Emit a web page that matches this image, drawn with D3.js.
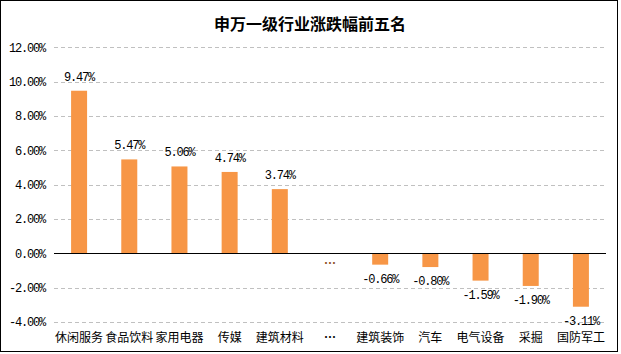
<!DOCTYPE html>
<html lang="zh">
<head>
<meta charset="UTF-8">
<title>申万一级行业涨跌幅前五名</title>
<style>
  body { margin: 0; background: #fff; }
  svg { display: block; }
</style>
</head>
<body>
<svg id="chart" width="621" height="354"></svg>
<script src="https://cdn.jsdelivr.net/npm/d3@7"></script>
<script>
// data
const categories = ["休闲服务", "食品饮料", "家用电器", "传媒", "建筑材料", "…", "建筑装饰", "汽车", "电气设备", "采掘", "国防军工"];
const values = [9.47, 5.47, 5.06, 4.74, 3.74, null, -0.66, -0.80, -1.59, -1.90, -3.11];
const yTicks = [-4, -2, 0, 2, 4, 6, 8, 10, 12];
const title = "申万一级行业涨跌幅前五名";

const svg = d3.select("#chart");
const plotL = 54, plotR = 606, plotT = 47.3, plotB = 322;
const numFont = "'Liberation Mono', 'DejaVu Sans Mono', monospace";
const cjkFont = "'Noto Sans CJK SC', 'Noto Sans', sans-serif";

// outer frame
svg.append("rect")
  .attr("x", 0.5).attr("y", 0.5)
  .attr("width", 617).attr("height", 351)
  .attr("fill", "#fff").attr("stroke", "#000");

svg.append("text")
  .attr("x", 310).attr("y", 30)
  .attr("text-anchor", "middle")
  .attr("font-family", cjkFont)
  .attr("font-weight", "bold")
  .attr("font-size", 16)
  .text(title);

const x = d3.scaleBand().domain(categories).range([plotL, plotR]);
const y = d3.scaleLinear().domain([-4, 12]).range([plotB, plotT]);

// grid lines
svg.append("g")
  .selectAll("line")
  .data(yTicks.filter(d => d !== 0))
  .join("line")
  .attr("x1", plotL).attr("x2", plotR)
  .attr("y1", d => Math.round(y(d)) + 0.5)
  .attr("y2", d => Math.round(y(d)) + 0.5)
  .attr("stroke", "#c0c0c0")
  .attr("stroke-dasharray", "4,3");

// y axis labels
const yAxis = svg.append("g")
  .attr("transform", `translate(${plotL},0)`)
  .call(d3.axisLeft(y).tickValues(yTicks).tickSize(0).tickPadding(9)
    .tickFormat(d => d3.format(".2f")(d).replace("−", "-") + "%"));
yAxis.select(".domain").remove();
yAxis.selectAll("text")
  .attr("font-family", numFont)
  .attr("font-size", 12)
  .attr("letter-spacing", "-1.2px")
  .attr("fill", "#000");

// bars
const bw = 16;
svg.append("g")
  .selectAll("rect")
  .data(values.map((v, i) => ({ c: categories[i], v })).filter(d => d.v !== null))
  .join("rect")
  .attr("x", d => x(d.c) + x.bandwidth() / 2 - bw / 2)
  .attr("y", d => y(Math.max(0, d.v)))
  .attr("width", bw)
  .attr("height", d => Math.abs(y(d.v) - y(0)))
  .attr("fill", "#f79646");

// zero line
svg.append("line")
  .attr("x1", plotL).attr("x2", plotR)
  .attr("y1", Math.round(y(0)) + 0.5).attr("y2", Math.round(y(0)) + 0.5)
  .attr("stroke", "#000");

// value labels
svg.append("g")
  .selectAll("text")
  .data(values.map((v, i) => ({ c: categories[i], v })))
  .join("text")
  .attr("x", d => x(d.c) + x.bandwidth() / 2)
  .attr("y", d => d.v === null ? y(0) + 15 : (d.v >= 0 ? y(d.v) - 10 : y(d.v) + 18))
  .attr("text-anchor", "middle")
  .attr("font-family", d => d.v === null ? cjkFont : numFont)
  .attr("font-size", 12)
  .attr("font-weight", d => d.v === null ? "bold" : null)
  .attr("letter-spacing", d => d.v === null ? null : "-1.2px")
  .attr("fill", d => d.v === null ? "#8a4a20" : "#000")
  .text(d => d.v === null ? "…" : d3.format(".2f")(d.v).replace("−", "-") + "%");

// category labels
svg.append("g")
  .selectAll("text")
  .data(categories)
  .join("text")
  .attr("x", d => x(d) + x.bandwidth() / 2)
  .attr("y", 342)
  .attr("text-anchor", "middle")
  .attr("font-family", cjkFont)
  .attr("font-size", 12)
  .attr("font-weight", d => d === "…" ? "bold" : null)
  .attr("fill", "#000")
  .text(d => d);
</script>
</body>
</html>
